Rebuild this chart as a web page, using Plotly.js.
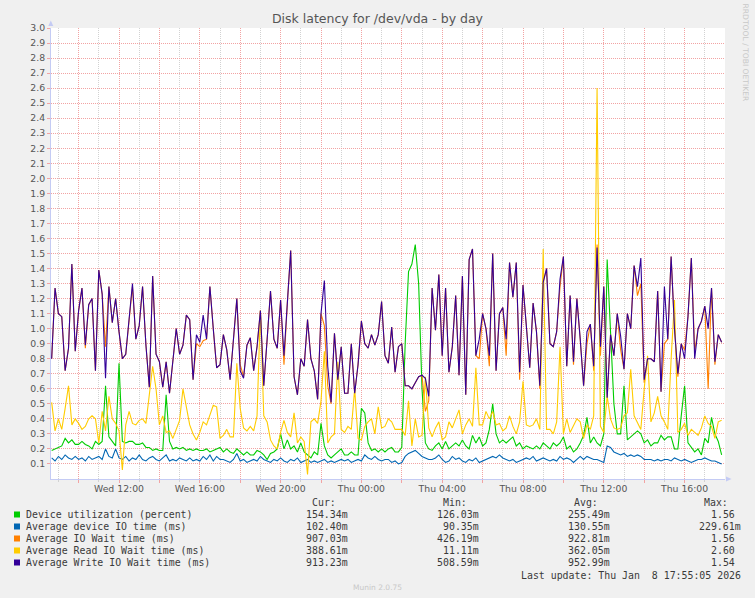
<!DOCTYPE html>
<html><head><meta charset="utf-8">
<script src="https://cdn.plot.ly/plotly-3.0.1.min.js"></script>
<style>html,body{margin:0;padding:0;background:#f0f0f0;}#chart{width:755px;height:598px;}</style>
</head><body><div id="chart"></div>
<script>
const startTime = '2026-01-07 08:40';
const stepMinutes = 10;

const seriesNames = ['Device utilization (percent)','Average device IO time (ms)','Average IO Wait time (ms)','Average Read IO Wait time (ms)','Average Write IO Wait time (ms)'];
const seriesColors = ['#00CC00','#0066B3','#FF8000','#FFCC00','#330099'];

const deviceUtil = [
0.19,0.20,0.21,0.22,0.27,0.24,0.26,0.23,0.23,0.25,0.23,0.22,0.20,0.25,0.23,0.25,0.62,0.28,0.25,0.22,0.77,0.25,0.24,0.25,0.25,0.23,0.23,0.24,0.21,0.21,0.19,0.20,0.19,0.19,0.56,0.25,0.20,0.21,0.20,0.21,0.19,0.20,0.19,0.20,0.19,0.19,0.20,0.18,0.19,0.20,0.21,
0.18,0.20,0.18,0.17,0.20,0.18,0.16,0.18,0.16,0.16,0.19,0.18,0.16,0.13,0.17,0.18,0.20,0.30,0.20,0.26,0.20,0.22,0.18,0.24,0.18,0.16,0.14,0.18,0.16,0.37,0.22,0.16,0.14,0.16,0.18,0.20,0.16,0.16,0.18,0.16,0.16,0.47,0.44,0.24,0.19,0.20,0.18,0.20,0.18,
0.20,0.21,0.18,0.18,0.21,0.90,1.38,1.43,1.56,1.30,0.60,0.24,0.20,0.19,0.22,0.24,0.20,0.25,0.20,0.22,0.24,0.22,0.26,0.22,0.20,0.29,0.24,0.28,0.22,0.24,0.33,0.50,0.30,0.24,0.26,0.24,0.26,0.28,0.22,0.24,0.20,0.22,0.21,0.20,0.22,0.20,0.24,0.22,0.20,0.24,
0.22,0.24,0.28,0.20,0.22,0.18,0.20,0.24,0.29,0.41,0.24,0.28,0.24,0.22,0.30,1.46,1.00,0.50,0.30,0.30,0.62,0.26,0.28,0.30,0.32,0.30,0.24,0.26,0.22,0.24,0.24,0.29,0.26,0.28,0.28,0.20,0.20,0.42,0.62,0.24,0.21,0.18,0.20,0.16,0.27,0.24,0.41,0.30,0.25,0.16];

const deviceIO = [
0.14,0.12,0.15,0.13,0.16,0.14,0.13,0.15,0.13,0.14,0.12,0.15,0.13,0.14,0.15,0.13,0.20,0.15,0.14,0.20,0.14,0.13,0.15,0.12,0.14,0.13,0.16,0.13,0.12,0.14,0.15,0.13,0.12,0.14,0.16,0.12,0.13,0.12,0.14,0.13,0.12,0.14,0.12,0.13,0.12,0.15,0.13,0.16,0.12,0.15,0.13,
0.13,0.12,0.11,0.13,0.17,0.12,0.13,0.11,0.12,0.13,0.12,0.15,0.13,0.12,0.11,0.13,0.12,0.14,0.12,0.11,0.13,0.12,0.14,0.11,0.12,0.13,0.11,0.12,0.11,0.12,0.13,0.11,0.12,0.11,0.12,0.13,0.12,0.13,0.11,0.12,0.13,0.12,0.16,0.14,0.13,0.15,0.13,0.12,0.13,
0.13,0.11,0.12,0.10,0.11,0.15,0.17,0.18,0.19,0.17,0.15,0.14,0.13,0.13,0.14,0.16,0.13,0.11,0.12,0.15,0.13,0.14,0.12,0.11,0.13,0.12,0.14,0.11,0.12,0.13,0.14,0.15,0.14,0.16,0.14,0.13,0.12,0.13,0.11,0.12,0.13,0.14,0.13,0.15,0.12,0.13,0.14,0.13,0.12,0.13,
0.12,0.15,0.13,0.14,0.13,0.11,0.13,0.15,0.13,0.15,0.14,0.13,0.13,0.12,0.11,0.22,0.21,0.18,0.17,0.16,0.17,0.15,0.16,0.15,0.16,0.15,0.13,0.13,0.13,0.12,0.13,0.12,0.13,0.13,0.12,0.14,0.13,0.12,0.13,0.12,0.11,0.12,0.13,0.13,0.14,0.13,0.12,0.12,0.11,0.10];

const ioWait = [
0.80,1.27,1.10,1.08,0.72,0.87,1.43,0.85,1.12,1.27,0.87,1.16,1.20,0.72,1.39,1.23,0.88,1.28,1.04,1.20,0.98,0.80,0.83,1.06,1.28,0.93,1.02,1.28,0.89,0.61,1.35,0.83,0.78,0.61,0.78,0.57,0.80,1.00,0.83,0.89,1.09,1.06,0.66,0.90,0.88,0.92,0.93,1.28,1.00,0.74,0.76,
0.96,0.86,0.66,0.93,1.20,0.76,0.68,0.89,0.94,0.72,0.88,1.12,0.62,0.93,1.25,0.93,0.87,1.19,0.76,1.17,1.52,0.68,0.56,0.80,0.75,1.06,0.80,0.72,0.53,1.10,1.02,0.62,0.50,0.97,0.66,0.88,0.57,0.57,0.90,0.57,0.76,1.05,0.90,0.87,0.96,0.89,0.96,1.18,0.82,
0.77,1.01,0.71,0.88,0.90,0.62,0.62,0.60,0.64,0.68,0.69,0.45,0.52,1.27,0.99,1.36,0.82,1.27,0.71,0.88,1.22,0.69,1.35,0.56,1.46,1.53,0.82,0.80,1.10,1.00,0.75,1.50,0.72,1.10,1.14,0.82,1.44,1.21,1.44,0.66,1.29,1.00,0.74,1.17,0.98,0.60,1.31,1.40,0.90,0.88,
0.98,1.28,1.48,0.75,1.22,0.76,1.20,0.93,0.62,0.90,1.03,0.72,1.56,0.82,1.28,0.54,0.96,0.82,1.10,0.86,0.73,1.10,1.00,1.42,1.22,1.30,0.64,0.80,0.80,0.78,1.25,0.58,0.90,0.93,1.48,1.00,0.68,0.90,0.86,1.08,1.47,0.85,1.00,1.05,1.15,0.60,1.27,0.76,0.96,0.91];

const readWait = [
0.51,0.32,0.40,0.33,0.47,0.62,0.36,0.40,0.37,0.33,0.35,0.40,0.42,0.40,0.24,0.45,0.32,0.55,0.40,0.37,0.32,0.06,0.36,0.45,0.37,0.36,0.39,0.40,0.37,0.55,0.75,0.60,0.36,0.42,0.31,0.32,0.27,0.33,0.39,0.60,0.47,0.36,0.30,0.26,0.31,0.38,0.36,0.43,0.49,0.48,0.27,
0.29,0.33,0.28,0.28,0.77,0.47,0.34,0.32,0.35,0.32,0.42,1.12,0.42,0.38,0.26,0.22,0.20,0.31,0.39,0.31,0.28,0.44,0.24,0.28,0.25,0.03,0.38,0.40,0.37,0.52,0.85,0.24,0.28,0.30,0.78,0.33,0.31,0.35,0.33,0.60,0.27,0.26,0.35,0.38,0.40,0.30,0.48,0.34,0.35,
0.40,0.38,0.33,0.33,0.33,0.29,0.52,0.22,0.40,0.28,0.29,0.68,0.34,0.28,0.34,0.38,0.26,0.28,0.38,0.34,0.40,0.46,0.30,0.36,0.40,0.35,0.74,0.36,0.36,0.45,0.40,0.45,0.36,0.37,0.32,0.34,0.42,0.35,0.30,0.38,0.65,0.36,0.35,0.36,0.40,0.33,1.53,0.33,0.33,0.30,
0.38,0.88,0.30,0.40,0.31,0.35,0.40,0.38,0.27,0.36,0.33,0.42,2.60,0.35,0.31,0.55,0.40,0.34,0.33,0.34,0.42,0.44,0.73,0.42,0.38,0.33,0.60,0.82,0.38,0.44,0.55,0.42,0.38,0.33,0.80,1.19,0.31,0.33,0.37,0.29,0.33,0.31,0.29,0.34,0.42,0.37,0.35,0.27,0.38,0.39];

const writeWait = [
0.80,1.27,1.10,1.08,0.72,0.87,1.43,0.85,1.12,1.27,0.89,1.16,1.20,0.72,1.39,1.23,0.67,1.28,1.04,1.20,0.98,0.80,0.83,1.06,1.30,0.93,1.02,1.28,0.89,0.61,1.35,0.83,0.78,0.61,0.78,0.57,0.80,1.00,0.83,0.89,1.09,1.06,0.66,0.96,0.91,1.09,0.93,1.28,1.00,0.74,0.76,
0.96,0.86,0.66,0.93,1.20,0.72,0.67,0.89,0.94,0.72,0.88,1.12,0.62,0.93,1.25,0.93,0.87,1.19,0.82,1.17,1.52,0.68,0.56,0.80,0.75,1.06,0.80,0.72,0.53,1.10,1.32,0.75,0.51,0.97,0.66,0.88,0.57,0.57,0.90,0.57,0.76,1.05,0.90,0.87,0.96,0.89,0.96,1.18,0.82,
0.77,1.01,0.71,0.88,0.90,0.62,0.62,0.60,0.64,0.68,0.69,0.67,0.55,1.27,0.99,1.36,0.82,1.27,0.71,0.88,1.22,0.69,1.35,0.56,1.46,1.53,0.82,0.93,1.10,1.00,0.82,1.50,0.72,1.10,1.14,0.93,1.44,1.21,1.44,0.71,1.29,1.00,0.74,1.17,0.98,0.62,1.31,1.40,0.90,0.88,
0.98,1.33,1.48,0.75,1.22,0.78,1.20,0.93,0.62,0.98,1.03,0.75,1.54,0.88,1.28,0.54,0.96,0.82,1.10,0.95,0.73,1.10,1.00,1.42,1.28,1.47,0.66,0.80,0.80,0.78,1.25,0.58,1.28,0.93,1.48,1.00,0.70,0.90,0.80,1.08,1.47,0.80,1.00,1.05,1.15,1.00,1.27,0.78,0.96,0.91];

const curVals = ['154.34m','102.40m','907.03m','388.61m','913.23m'];
const minVals = ['126.03m','90.35m','426.19m','11.11m','508.59m'];
const avgVals = ['255.49m','130.55m','922.81m','362.05m','952.99m'];
const maxVals = ['1.56','229.61m','1.56','2.60','1.54'];
const colHeaders = ['Cur:','Min:','Avg:','Max:'];
const lastUpdate = 'Last update: Thu Jan  8 17:55:05 2026';

const yTickVals = [0.1,0.2,0.3,0.4,0.5,0.6,0.7,0.8,0.9,1.0,1.1,1.2,1.3,1.4,1.5,1.6,1.7,1.8,1.9,2.0,2.1,2.2,2.3,2.4,2.5,2.6,2.7,2.8,2.9,3.0];
const yTickText = ['0.1','0.2','0.3','0.4','0.5','0.6','0.7','0.8','0.9','1.0','1.1','1.2','1.3','1.4','1.5','1.6','1.7','1.8','1.9','2.0','2.1','2.2','2.3','2.4','2.5','2.6','2.7','2.8','2.9','3.0'];
const xTickTimes = ['2026-01-07 10:00','2026-01-07 12:00','2026-01-07 14:00','2026-01-07 16:00','2026-01-07 18:00','2026-01-07 20:00','2026-01-07 22:00','2026-01-08 00:00','2026-01-08 02:00','2026-01-08 04:00','2026-01-08 06:00','2026-01-08 08:00','2026-01-08 10:00','2026-01-08 12:00','2026-01-08 14:00','2026-01-08 16:00'];
const xTickText = ['','Wed 12:00','','Wed 16:00','','Wed 20:00','','Thu 00:00','','Thu 04:00','','Thu 08:00','','Thu 12:00','','Thu 16:00'];

const seriesData = [deviceUtil, deviceIO, ioWait, readWait, writeWait];

function timeAt(i){
  const t0 = Date.parse(startTime.replace(' ','T') + ':00Z');
  return new Date(t0 + i*stepMinutes*60000).toISOString().slice(0,16).replace('T',' ');
}

const traces = seriesData.map((vals, s) => ({
  type: 'scatter', mode: 'lines', name: seriesNames[s],
  x: vals.map((_, i) => timeAt(i)), y: vals,
  line: {color: seriesColors[s], width: 1.1},
  hoverinfo: 'skip'
}));

const L = 51, T = 28, W = 674, H = 451;
const px = x => (x - L) / W;
const py = y => (T + H - y) / H;

const mono = {family: 'DejaVu Sans Mono', size: 9.9, color: '#3a3a3a'};
const annotations = [];
function ann(text, x, y, anchor, font){
  annotations.push({text: text, xref: 'paper', yref: 'paper', x: px(x), y: py(y),
    xanchor: anchor, yanchor: 'middle', showarrow: false, font: font, borderpad: 0, borderwidth: 0});
}
const rowY = [514.5, 526.5, 538.5, 550.5, 562.5];
const colRight = [348.3, 479.3, 610.0, 740.7];
const headRight = [336.2, 466.8, 597.5, 728.3];
const charW = 5.96;
colHeaders.forEach((h, c) => ann(h, headRight[c], 502.5, 'right', mono));
const shapes = [];
seriesNames.forEach((n, s) => {
  ann(n, 26, rowY[s], 'left', mono);
  [curVals, minVals, avgVals, maxVals].forEach((col, c) => {
    const v = col[s];
    const r = v.endsWith('m') ? colRight[c] : colRight[c] - charW;
    ann(v, r, rowY[s], 'right', mono);
  });
  shapes.push({type: 'rect', xref: 'paper', yref: 'paper', x0: px(14), x1: px(20), y0: py(rowY[s] + 3), y1: py(rowY[s] - 3),
    fillcolor: seriesColors[s], line: {width: 0}});
});
ann(lastUpdate, 740.7, 575, 'right', mono);
ann('Munin 2.0.75', 377.5, 587, 'center', {family: 'DejaVu Sans', size: 7.5, color: '#c8c8c8'});
annotations.push({text: 'RRDTOOL / TOBI OETIKER', xref: 'paper', yref: 'paper', x: px(745.5), y: py(53),
  xanchor: 'center', yanchor: 'middle', textangle: 90, showarrow: false,
  font: {family: 'DejaVu Sans', size: 7.6, color: '#c8c8c8'}, borderpad: 0, borderwidth: 0});

const axisBlue = '#c4cbf4';
shapes.push({type: 'path', xref: 'paper', yref: 'paper',
  path: 'M' + px(48.3) + ',' + py(26) + ' L' + px(53.3) + ',' + py(26) + ' L' + px(50.8) + ',' + py(20.5) + ' Z',
  fillcolor: axisBlue, line: {width: 0}});
shapes.push({type: 'path', xref: 'paper', yref: 'paper',
  path: 'M' + px(726) + ',' + py(476.5) + ' L' + px(726) + ',' + py(481.5) + ' L' + px(731.5) + ',' + py(479) + ' Z',
  fillcolor: axisBlue, line: {width: 0}});

const red = '#f2a3a3';
const grey = '#d2d2d2';
const layout = {
  width: 755, height: 598,
  margin: {l: L, r: 755 - L - W, t: T, b: 598 - T - H, pad: 0},
  paper_bgcolor: '#f0f0f0', plot_bgcolor: '#ffffff',
  font: {family: 'DejaVu Sans', color: '#555555'},
  showlegend: false, hovermode: false,
  title: {text: 'Disk latency for /dev/vda - by day', xref: 'container', yref: 'container',
    x: 0.5, xanchor: 'center', y: 1 - 19/598, yanchor: 'middle',
    font: {family: 'DejaVu Sans', size: 12.5, color: '#555555'}},
  xaxis: {type: 'date', range: ['2026-01-07 08:38', '2026-01-08 18:00'],
    tickmode: 'array', tickvals: xTickTimes, ticktext: xTickText,
    showgrid: true, gridcolor: red, gridwidth: 1, griddash: '1px,1px',
    ticks: 'outside', ticklen: 3, tickcolor: red, tickwidth: 1, ticklabelstandoff: -2,
    tickfont: {family: 'DejaVu Sans', size: 9.3, color: '#555555'},
    showline: true, linecolor: axisBlue, linewidth: 1, zeroline: false, fixedrange: true,
    minor: {tickmode: 'linear', tick0: '2026-01-07 09:00', dtick: 7200000, showgrid: true,
      gridcolor: grey, gridwidth: 1, griddash: '1px,1px', ticks: 'outside', ticklen: 2, tickcolor: grey}},
  yaxis: {range: [0, 3.0], tickmode: 'array', tickvals: yTickVals, ticktext: yTickText,
    showgrid: true, gridcolor: red, gridwidth: 1, griddash: '1px,1px',
    ticks: 'outside', ticklen: 3, tickcolor: red, tickwidth: 1,
    tickfont: {family: 'DejaVu Sans', size: 9.3, color: '#555555'},
    showline: true, linecolor: axisBlue, linewidth: 1, zeroline: false, fixedrange: true},
  shapes: shapes, annotations: annotations
};
Plotly.newPlot('chart', traces, layout, {staticPlot: true, displayModeBar: false});
</script></body></html>
